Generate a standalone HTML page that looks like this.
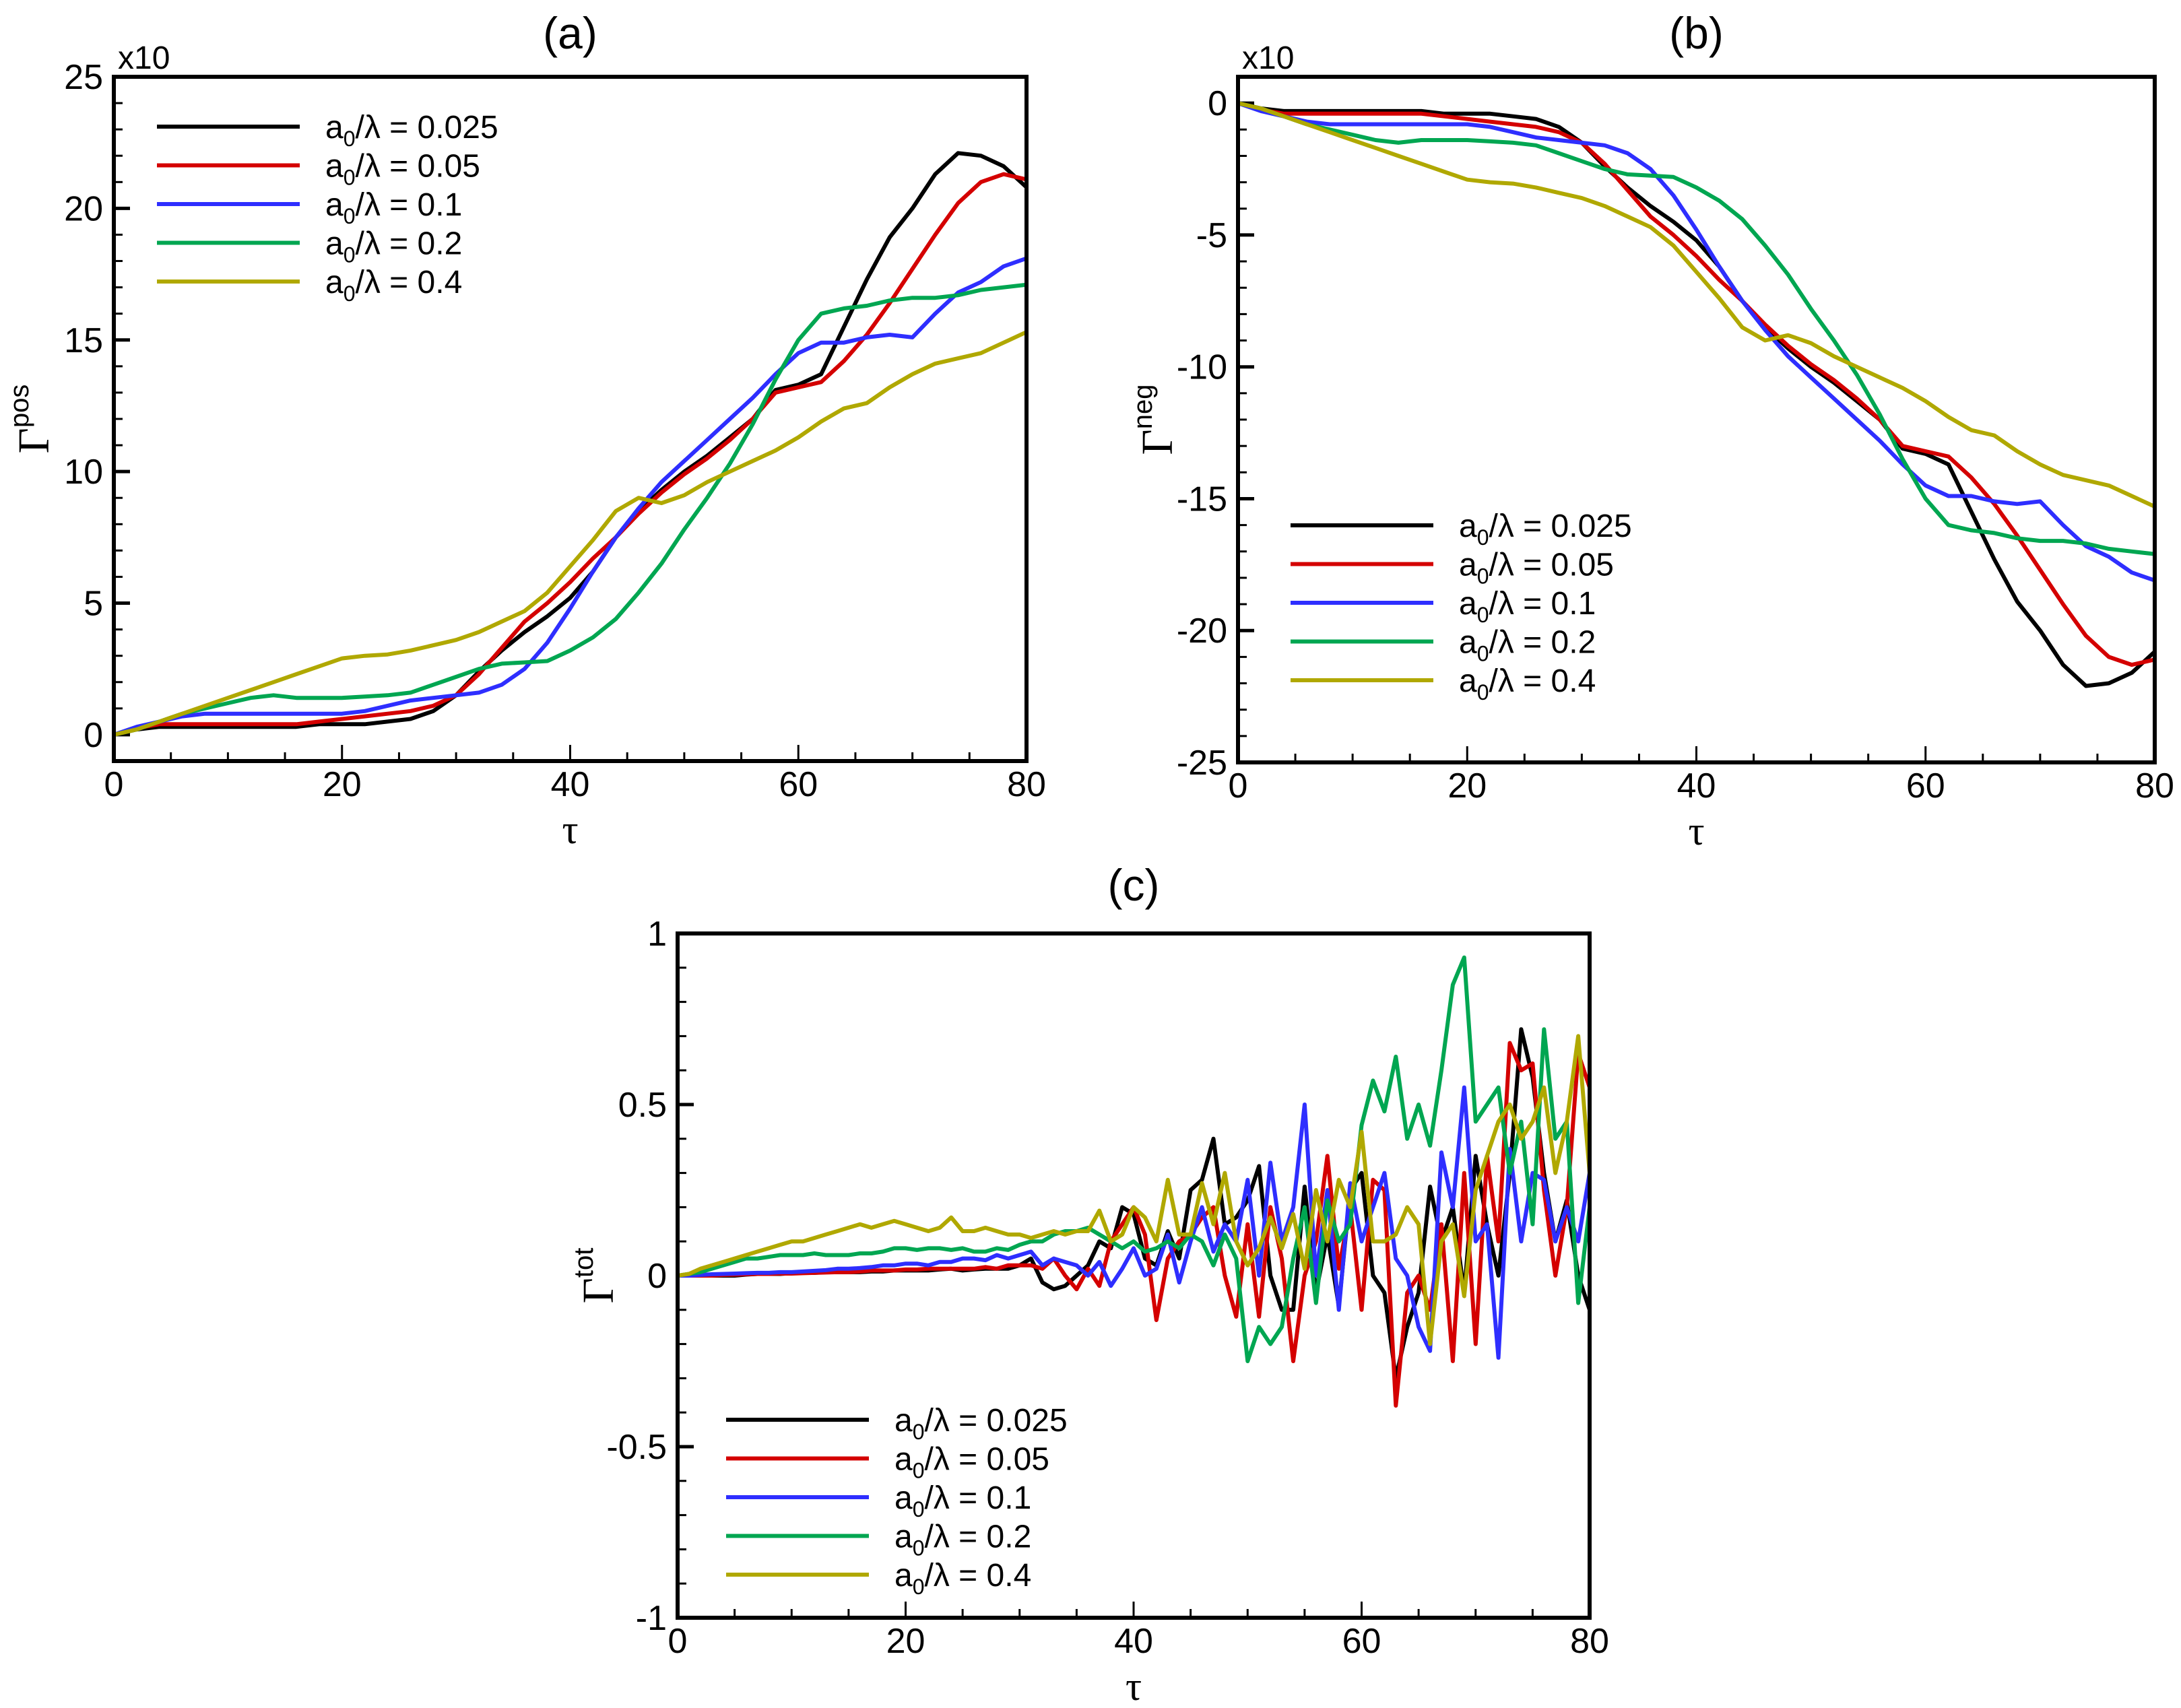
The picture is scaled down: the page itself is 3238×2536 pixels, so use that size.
<!DOCTYPE html>
<html><head><meta charset="utf-8"><style>
html,body{margin:0;padding:0;background:#fff;}
svg{display:block;font-family:"Liberation Sans",Arial,sans-serif;}
</style></head><body>
<svg id="fig" width="3238" height="2536" viewBox="0 0 3238 2536" xmlns="http://www.w3.org/2000/svg"></svg>
<script>
// ---------- data ----------
const seriesLabels = ["0.025","0.05","0.1","0.2","0.4"];
const seriesColors = ["#000000","#d40000","#2e2eff","#00a651","#b0a800"];
const tauCoarse = [0,2,4,6,8,10,12,14,16,18,20,22,24,26,28,30,32,34,36,38,40,42,44,46,48,50,52,54,56,58,60,62,64,66,68,70,72,74,76,78,80];
const posK025 = [0,0.2,0.3,0.3,0.3,0.3,0.3,0.3,0.3,0.4,0.4,0.4,0.5,0.6,0.9,1.5,2.4,3.2,3.9,4.5,5.2,6.2,7.5,8.5,9.3,10.0,10.6,11.3,12.0,13.1,13.3,13.7,15.5,17.3,18.9,20.0,21.3,22.1,22.0,21.6,20.8];
const posK05 = [0,0.25,0.4,0.4,0.4,0.4,0.4,0.4,0.4,0.5,0.6,0.7,0.8,0.9,1.1,1.5,2.3,3.3,4.3,5.0,5.8,6.7,7.5,8.4,9.2,9.9,10.5,11.2,12.0,13.0,13.2,13.4,14.2,15.2,16.4,17.7,19.0,20.2,21.0,21.3,21.1];
const posK1 = [0,0.3,0.5,0.7,0.8,0.8,0.8,0.8,0.8,0.8,0.8,0.9,1.1,1.3,1.4,1.5,1.6,1.9,2.5,3.5,4.8,6.2,7.5,8.6,9.6,10.4,11.2,12.0,12.8,13.7,14.5,14.9,14.9,15.1,15.2,15.1,16.0,16.8,17.2,17.8,18.1];
const posK2 = [0,0.2,0.5,0.8,1.0,1.2,1.4,1.5,1.4,1.4,1.4,1.45,1.5,1.6,1.9,2.2,2.5,2.7,2.75,2.8,3.2,3.7,4.4,5.4,6.5,7.8,9.0,10.3,11.8,13.5,15.0,16.0,16.2,16.3,16.5,16.6,16.6,16.7,16.9,17.0,17.1];
const posK4 = [0,0.2,0.5,0.8,1.1,1.4,1.7,2.0,2.3,2.6,2.9,3.0,3.05,3.2,3.4,3.6,3.9,4.3,4.7,5.4,6.4,7.4,8.5,9.0,8.8,9.1,9.6,10.0,10.4,10.8,11.3,11.9,12.4,12.6,13.2,13.7,14.1,14.3,14.5,14.9,15.3];
const negK025 = [0,-0.2,-0.3,-0.3,-0.3,-0.3,-0.3,-0.3,-0.3,-0.4,-0.4,-0.4,-0.5,-0.6,-0.9,-1.5,-2.4,-3.2,-3.9,-4.5,-5.2,-6.2,-7.5,-8.5,-9.3,-10.0,-10.6,-11.3,-12.0,-13.1,-13.3,-13.7,-15.5,-17.3,-18.9,-20.0,-21.3,-22.1,-22.0,-21.6,-20.8];
const negK05 = [0,-0.25,-0.4,-0.4,-0.4,-0.4,-0.4,-0.4,-0.4,-0.5,-0.6,-0.7,-0.8,-0.9,-1.1,-1.5,-2.3,-3.3,-4.3,-5.0,-5.8,-6.7,-7.5,-8.4,-9.2,-9.9,-10.5,-11.2,-12.0,-13.0,-13.2,-13.4,-14.2,-15.2,-16.4,-17.7,-19.0,-20.2,-21.0,-21.3,-21.1];
const negK1 = [0,-0.3,-0.5,-0.7,-0.8,-0.8,-0.8,-0.8,-0.8,-0.8,-0.8,-0.9,-1.1,-1.3,-1.4,-1.5,-1.6,-1.9,-2.5,-3.5,-4.8,-6.2,-7.5,-8.6,-9.6,-10.4,-11.2,-12.0,-12.8,-13.7,-14.5,-14.9,-14.9,-15.1,-15.2,-15.1,-16.0,-16.8,-17.2,-17.8,-18.1];
const negK2 = [0,-0.2,-0.5,-0.8,-1.0,-1.2,-1.4,-1.5,-1.4,-1.4,-1.4,-1.45,-1.5,-1.6,-1.9,-2.2,-2.5,-2.7,-2.75,-2.8,-3.2,-3.7,-4.4,-5.4,-6.5,-7.8,-9.0,-10.3,-11.8,-13.5,-15.0,-16.0,-16.2,-16.3,-16.5,-16.6,-16.6,-16.7,-16.9,-17.0,-17.1];
const negK4 = [0,-0.2,-0.5,-0.8,-1.1,-1.4,-1.7,-2.0,-2.3,-2.6,-2.9,-3.0,-3.05,-3.2,-3.4,-3.6,-3.9,-4.3,-4.7,-5.4,-6.4,-7.4,-8.5,-9.0,-8.8,-9.1,-9.6,-10.0,-10.4,-10.8,-11.3,-11.9,-12.4,-12.6,-13.2,-13.7,-14.1,-14.3,-14.5,-14.9,-15.3];
const tauFine = Array.from({length:81},(_,i)=>i);
const totK025 = [0,0,0,0,0,0,0.003,0.005,0.005,0.005,0.007,0.008,0.008,0.01,0.01,0.01,0.01,0.012,0.012,0.015,0.015,0.015,0.015,0.018,0.02,0.015,0.018,0.02,0.02,0.02,
 0.03,0.05,-0.02,-0.04,-0.03,0.0,0.03,0.1,0.08,0.2,0.18,0.05,0.03,0.13,0.05,0.25,0.28,0.4,0.15,0.17,0.22,0.32,0.0,-0.1,-0.1,0.26,-0.05,0.12,-0.09,0.25,0.3,0.0,-0.05,-0.3,-0.15,-0.05,0.26,0.1,0.2,-0.05,0.35,0.15,0.0,0.3,0.72,0.58,0.3,0.1,0.22,0.0,-0.1];
const totK05 = [0,0,0,0,0.002,0.003,0.004,0.005,0.005,0.006,0.006,0.007,0.008,0.009,0.01,0.01,0.012,0.015,0.015,0.015,0.018,0.018,0.02,0.02,0.02,0.02,0.02,0.025,0.02,0.03,
 0.03,0.03,0.02,0.05,0.0,-0.04,0.02,-0.03,0.1,0.15,0.2,0.12,-0.13,0.05,0.1,0.12,0.17,0.2,0.0,-0.12,0.15,-0.12,0.2,0.05,-0.25,0.0,0.1,0.35,0.02,0.2,-0.1,0.28,0.25,-0.38,-0.05,0.0,-0.1,0.15,-0.25,0.3,-0.2,0.35,0.1,0.68,0.6,0.62,0.25,0.0,0.2,0.65,0.55];
const totK1 = [0,0,0.002,0.004,0.005,0.006,0.007,0.008,0.008,0.01,0.01,0.012,0.014,0.016,0.02,0.02,0.022,0.025,0.03,0.03,0.035,0.035,0.03,0.04,0.04,0.05,0.05,0.045,0.06,0.05,
 0.06,0.07,0.03,0.05,0.04,0.03,0.0,0.04,-0.03,0.02,0.08,0.0,0.02,0.12,-0.02,0.1,0.2,0.07,0.15,0.1,0.28,0.0,0.33,0.1,0.2,0.5,0.0,0.25,-0.1,0.27,0.1,0.2,0.3,0.05,0.0,-0.15,-0.22,0.36,0.2,0.55,0.1,0.15,-0.24,0.37,0.1,0.3,0.28,0.1,0.2,0.1,0.3];
const totK2 = [0,0.005,0.01,0.02,0.03,0.04,0.05,0.05,0.055,0.06,0.06,0.06,0.065,0.06,0.06,0.06,0.065,0.065,0.07,0.08,0.08,0.075,0.08,0.08,0.075,0.08,0.07,0.07,0.08,0.075,
 0.09,0.1,0.1,0.12,0.13,0.13,0.14,0.12,0.1,0.08,0.1,0.07,0.08,0.1,0.08,0.12,0.1,0.03,0.12,0.05,-0.25,-0.15,-0.2,-0.15,0.05,0.2,-0.08,0.22,0.1,0.15,0.44,0.57,0.48,0.64,0.4,0.5,0.38,0.6,0.85,0.93,0.45,0.5,0.55,0.3,0.45,0.15,0.72,0.4,0.45,-0.08,0.2];
const totK4 = [0,0.005,0.02,0.03,0.04,0.05,0.06,0.07,0.08,0.09,0.1,0.1,0.11,0.12,0.13,0.14,0.15,0.14,0.15,0.16,0.15,0.14,0.13,0.14,0.17,0.13,0.13,0.14,0.13,0.12,
 0.12,0.11,0.12,0.13,0.12,0.13,0.13,0.19,0.1,0.12,0.2,0.17,0.1,0.28,0.12,0.12,0.27,0.15,0.3,0.1,0.03,0.08,0.17,0.08,0.18,0.02,0.25,0.1,0.28,0.2,0.42,0.1,0.1,0.12,0.2,0.15,-0.2,0.1,0.15,-0.06,0.25,0.35,0.45,0.5,0.4,0.45,0.55,0.3,0.45,0.7,0.3];
const xTicks = [0,20,40,60,80];
const yTicksA = [0,5,10,15,20,25];
const yTicksB = [0,-5,-10,-15,-20,-25];
const yTicksC = [1,0.5,0,-0.5,-1];

// ---------- drawing ----------
const NS="http://www.w3.org/2000/svg";
const svg=document.getElementById('fig');
function el(tag,attrs,parent){const e=document.createElementNS(NS,tag);for(const k in attrs)e.setAttribute(k,attrs[k]);(parent||svg).appendChild(e);return e;}

function panel(p){
  const g=el('g',{});
  
  
  const sx=v=>p.L+(v-p.x0)/(p.x1-p.x0)*(p.R-p.L);
  const sy=v=>p.B-(v-p.y0)/(p.y1-p.y0)*(p.B-p.T);
  const tk=el('g',{stroke:'#000','stroke-width':3},g);
  
  
  for(let v=p.x0;v<=p.x1+1e-9;v+=p.xMinor){const X=sx(v);const len=(Math.abs(v%p.xMajor)<1e-6)?24:13;
    el('line',{x1:X,y1:p.B,x2:X,y2:p.B-len},tk);}
  for(let v=p.yMinorStart;v<=p.y1+1e-9;v+=p.yMinor){const Y=sy(v);const maj=Math.abs((v-p.yMajorBase)/p.yMajor-Math.round((v-p.yMajorBase)/p.yMajor))<1e-6;const len=maj?24:13;
    el('line',{x1:p.L,y1:Y,x2:p.L+len,y2:Y,'stroke-width':maj?5:3},tk);}
  xTicks.forEach(v=>{const t=el('text',{x:sx(v),y:p.B+52,'font-size':52,'text-anchor':'middle'},g);t.textContent=v;
    });
  p.yTicks.forEach(v=>{const t=el('text',{x:p.L-16,y:sy(v)+18,'font-size':52,'text-anchor':'end'},g);t.textContent=v;
    });
  if(p.mult){const t=el('text',{x:p.L+6,y:p.T-12,'font-size':48},g);t.textContent='x10';
    }
  const clip=el('clipPath',{id:'clip-'+p.name},g);el('rect',{x:p.L,y:p.T,width:p.R-p.L,height:p.B-p.T},clip);
  p.series.forEach((ys,i)=>{
    const d=ys.map((v,j)=>(j?'L':'M')+sx(p.xs[j]).toFixed(1)+','+sy(v).toFixed(1)).join('');
    const path=el('path',{d:d,fill:'none',stroke:seriesColors[i],'stroke-width':6,'stroke-linejoin':'round','clip-path':'url(#clip-'+p.name+')'},g);
    
    
  });
  const fr=el('rect',{x:p.L,y:p.T,width:p.R-p.L,height:p.B-p.T,fill:'none',stroke:'#000','stroke-width':6},g);
  
  const xt=el('text',{x:(p.L+p.R)/2,y:p.B+122,'font-size':60,'text-anchor':'middle','font-family':'Liberation Serif, serif'},g);
  xt.textContent='τ';
  const yt=el('text',{transform:'translate('+p.ytx+','+((p.T+p.B)/2)+') rotate(-90)','font-size':66,'text-anchor':'middle','font-family':'Liberation Serif, serif'},g);
  
  const g1=el('tspan',{},yt);g1.textContent='Γ';
  const g2=el('tspan',{'font-size':40,dy:-30,'font-family':'Liberation Sans, sans-serif'},yt);g2.textContent=p.sup;
  const tt=el('text',{x:(p.L+p.R)/2,y:p.titleY,'font-size':66,'text-anchor':'middle'},g);
  tt.textContent=p.title;
  const lg=el('g',{},g);
  seriesLabels.forEach((s,i)=>{
    const Y=p.legY+i*57.5;
    const ln=el('line',{x1:p.legX,y1:Y,x2:p.legX+212,y2:Y,stroke:seriesColors[i],'stroke-width':6},lg);
    
    const t=el('text',{x:p.legX+250,y:Y+17,'font-size':48},lg);
    
    const a=el('tspan',{},t);a.textContent='a';
    const b=el('tspan',{'font-size':32,dy:12},t);b.textContent='0';
    const c=el('tspan',{dy:-12},t);c.textContent='/λ = '+s;
  });
}

panel({name:'panel-a',title:'(a)',titleY:72,L:169,R:1524,T:114,B:1130,x0:0,x1:80,y0:-1,y1:25,
  xMinor:5,xMajor:20,yMinor:1,yMinorStart:-1,yMajor:5,yMajorBase:0,yTicks:yTicksA,mult:true,sup:'pos',ytx:72,
  xs:tauCoarse,series:[posK025,posK05,posK1,posK2,posK4],legX:233,legY:188});
panel({name:'panel-b',title:'(b)',titleY:72,L:1838,R:3199,T:114,B:1132,x0:0,x1:80,y0:-25,y1:1,
  xMinor:5,xMajor:20,yMinor:1,yMinorStart:-25,yMajor:5,yMajorBase:0,yTicks:yTicksB,mult:true,sup:'neg',ytx:1740,
  xs:tauCoarse,series:[negK025,negK05,negK1,negK2,negK4],legX:1916,legY:780});
panel({name:'panel-c',title:'(c)',titleY:1337,L:1006,R:2360,T:1386,B:2402,x0:0,x1:80,y0:-1,y1:1,
  xMinor:5,xMajor:20,yMinor:0.1,yMinorStart:-1,yMajor:0.5,yMajorBase:0,yTicks:yTicksC,mult:false,sup:'tot',ytx:910,
  xs:tauFine,series:[totK025,totK05,totK1,totK2,totK4],legX:1078,legY:2108});
</script>
</body></html>
